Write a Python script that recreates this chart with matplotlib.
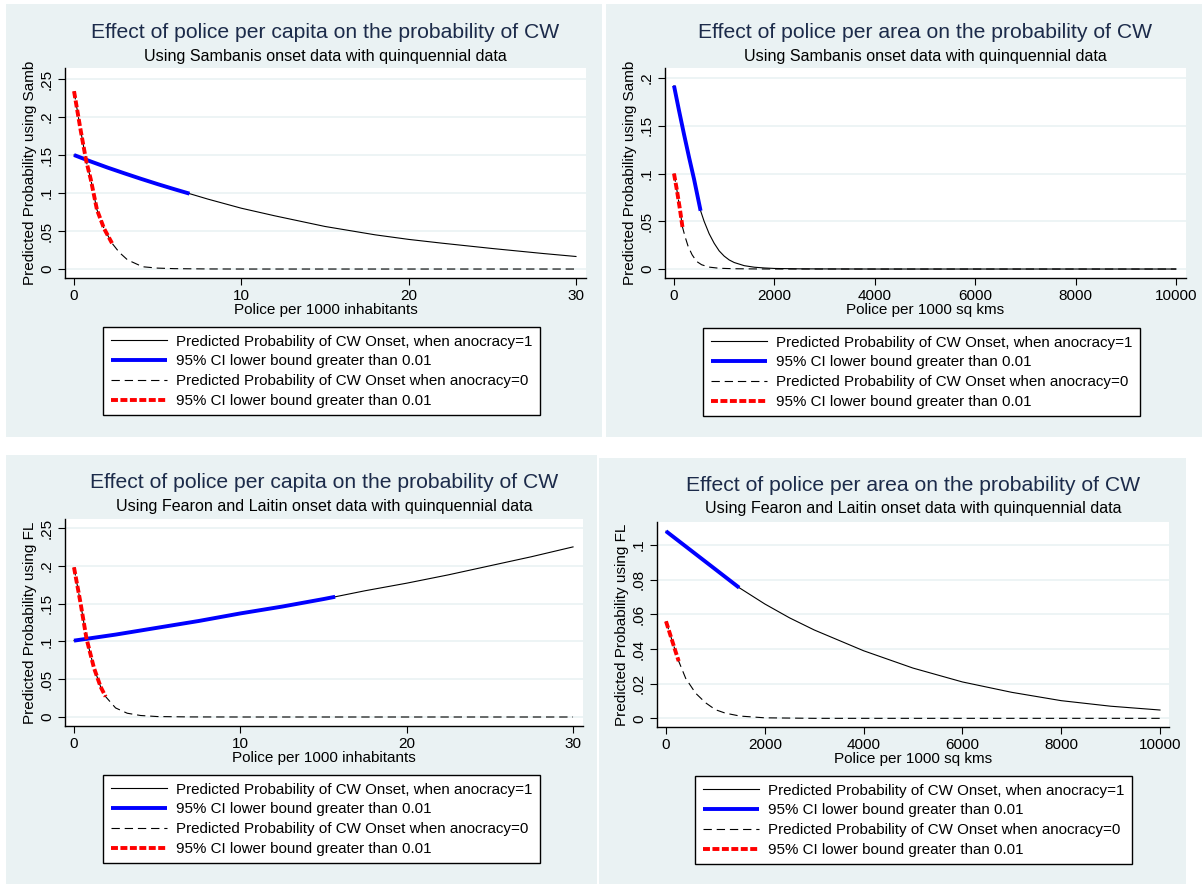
import matplotlib
matplotlib.use("Agg")
import matplotlib.pyplot as plt
import numpy as np
from matplotlib.patches import Rectangle

plt.rcParams['font.family'] = ['Liberation Sans', 'DejaVu Sans']
plt.rcParams['lines.scale_dashes'] = False

# ---- data ----
# panel 1: police per capita, Sambanis
pc_samb_x = [0, 1, 2, 3, 4, 5, 6, 6.9, 8, 10, 12, 15, 18, 20, 22, 25, 28, 30]
pc_samb_a1 = [0.150, 0.1415, 0.1335, 0.126, 0.1187, 0.1117, 0.1050, 0.0992, 0.092, 0.080,
              0.070, 0.056, 0.045, 0.039, 0.034, 0.027, 0.0205, 0.0165]
pc_samb_x0 = [0, 0.36, 0.72, 1.0, 1.37, 1.8, 2.27, 2.7, 3.2, 4.1, 5, 6, 8, 10, 15, 20, 25, 30]
pc_samb_a0 = [0.234, 0.187, 0.143, 0.118, 0.078, 0.053, 0.034, 0.022, 0.012, 0.003,
              0.0012, 0.0005, 0.0001, 0, 0, 0, 0, 0]
pc_samb_ci1, pc_samb_ci0 = 6.9, 2.27

# panel 2: police per area, Sambanis
pa_samb_x = [0, 100, 200, 300, 400, 530, 600, 700, 800, 900, 1000, 1100, 1200, 1400,
             1600, 1800, 2000, 2500, 3000, 4000, 6000, 8000, 10000]
pa_samb_a1 = [0.192, 0.166, 0.141, 0.117, 0.094, 0.061, 0.050, 0.037, 0.027, 0.019,
              0.0135, 0.0095, 0.0068, 0.0035, 0.0019, 0.0011, 0.0006, 0.0002, 0.0001,
              0, 0, 0, 0]
pa_samb_x0 = [0, 60, 120, 169, 220, 280, 360, 450, 550, 700, 900, 1200, 1600, 2000,
              4000, 6000, 8000, 10000]
pa_samb_a0 = [0.100, 0.082, 0.062, 0.044, 0.034, 0.024, 0.015, 0.008, 0.0045, 0.002,
              0.0008, 0.0003, 0.0001, 0, 0, 0, 0, 0]
pa_samb_ci1, pa_samb_ci0 = 530, 169

# panel 3: police per capita, Fearon and Laitin
pc_fl_x = [0, 2.5, 5, 7.5, 10, 12.5, 15, 15.7, 17.5, 20, 22.5, 25, 27.5, 30]
pc_fl_a1 = [0.101, 0.109, 0.118, 0.127, 0.137, 0.146, 0.156, 0.159, 0.167, 0.177,
            0.188, 0.200, 0.212, 0.225]
pc_fl_x0 = [0, 0.4, 0.75, 1.2, 1.6, 1.9, 2.5, 3.2, 4, 5, 7, 10, 15, 20, 25, 30]
pc_fl_a0 = [0.198, 0.150, 0.104, 0.065, 0.040, 0.027, 0.012, 0.005, 0.002, 0.0006,
            0.0001, 0, 0, 0, 0, 0]
pc_fl_ci1, pc_fl_ci0 = 15.7, 1.9

# panel 4: police per area, Fearon and Laitin
pa_fl_x = [0, 500, 1000, 1481, 2000, 2500, 3000, 3500, 4000, 5000, 6000, 7000, 8000,
           9000, 10000]
pa_fl_a1 = [0.108, 0.097, 0.086, 0.0754, 0.066, 0.058, 0.051, 0.045, 0.039, 0.029,
            0.021, 0.015, 0.0102, 0.007, 0.0048]
pa_fl_x0 = [0, 100, 200, 257, 400, 600, 800, 1000, 1200, 1500, 2000, 3000, 5000, 10000]
pa_fl_a0 = [0.056, 0.047, 0.038, 0.033, 0.023, 0.0145, 0.009, 0.005, 0.003, 0.0013,
            0.0003, 0, 0, 0]
pa_fl_ci1, pa_fl_ci0 = 1481, 257

titles = ['Effect of police per capita on the probability of CW',
          'Effect of police per area on the probability of CW',
          'Effect of police per capita on the probability of CW',
          'Effect of police per area on the probability of CW']
subtitles = ['Using Sambanis onset data with quinquennial data',
             'Using Sambanis onset data with quinquennial data',
             'Using Fearon and Laitin onset data with quinquennial data',
             'Using Fearon and Laitin onset data with quinquennial data']
xlabels = ['Police per 1000 inhabitants', 'Police per 1000 sq kms',
           'Police per 1000 inhabitants', 'Police per 1000 sq kms']
ylabels = ['Predicted Probability using Samb', 'Predicted Probability using Samb',
           'Predicted Probability using FL', 'Predicted Probability using FL']
xticks = [[0, 10, 20, 30], [0, 2000, 4000, 6000, 8000, 10000],
          [0, 10, 20, 30], [0, 2000, 4000, 6000, 8000, 10000]]
yticks = [[0, .05, .1, .15, .2, .25], [0, .05, .1, .15, .2],
          [0, .05, .1, .15, .2, .25], [0, .02, .04, .06, .08, .1]]
ytick_labels = [['0', '.05', '.1', '.15', '.2', '.25'], ['0', '.05', '.1', '.15', '.2'],
                ['0', '.05', '.1', '.15', '.2', '.25'], ['0', '.02', '.04', '.06', '.08', '.1']]
legend_labels = ['Predicted Probability of CW Onset, when anocracy=1',
                 '95% CI lower bound greater than 0.01',
                 'Predicted Probability of CW Onset when anocracy=0',
                 '95% CI lower bound greater than 0.01']

series = [(pc_samb_x, pc_samb_a1, pc_samb_ci1, pc_samb_x0, pc_samb_a0, pc_samb_ci0),
          (pa_samb_x, pa_samb_a1, pa_samb_ci1, pa_samb_x0, pa_samb_a0, pa_samb_ci0),
          (pc_fl_x, pc_fl_a1, pc_fl_ci1, pc_fl_x0, pc_fl_a0, pc_fl_ci0),
          (pa_fl_x, pa_fl_a1, pa_fl_ci1, pa_fl_x0, pa_fl_a0, pa_fl_ci0)]

# ---- layout (pixels) ----
W, H = 1202, 884
BG = '#EAF2F3'
TITLE_C = '#1C2B4A'

def fbox(l, t, r, b):
    return [l / W, 1 - b / H, (r - l) / W, (b - t) / H]

layout = [
    dict(bg=(6, 4, 602, 437), ax=(65, 68, 586, 278), ty=32, sy=56, leg=(103, 327),
         xlim=(-0.54, 30.6), ylim=(-0.0118, 0.2645)),
    dict(bg=(606, 4, 1202, 437), ax=(665, 68, 1186, 278), ty=32, sy=56, leg=(703, 328),
         xlim=(-179, 10199), ylim=(-0.0094, 0.2105)),
    dict(bg=(6, 455, 597, 884), ax=(65, 519, 583, 726), ty=483, sy=507, leg=(103, 775),
         xlim=(-0.54, 30.6), ylim=(-0.0119, 0.2619)),
    dict(bg=(599, 458, 1186, 884), ax=(657, 522, 1169, 727), ty=485, sy=509, leg=(695, 776),
         xlim=(-182, 10182), ylim=(-0.005, 0.1133)),
]

fig = plt.figure(figsize=(W / 100, H / 100), dpi=100)
fig.patch.set_facecolor('white')

for i, lay in enumerate(layout):
    l, t, r, b = lay['bg']
    fig.patches.append(Rectangle((l / W, 1 - b / H), (r - l) / W, (b - t) / H,
                                 transform=fig.transFigure, facecolor=BG,
                                 edgecolor='none', zorder=-10))
    ax = fig.add_axes(fbox(*lay['ax']))
    ax.set_zorder(1)
    ax.set_facecolor('white')
    x1, y1, c1, x0, y0, c0 = series[i]
    x1 = np.array(x1); y1 = np.array(y1)
    x0 = np.array(x0); y0 = np.array(y0)

    h1, = ax.plot(x1, y1, color='black', lw=0.8, zorder=3)
    h3, = ax.plot(x0, y0, color='black', lw=0.8, dashes=(6, 3.5), zorder=3)
    m1 = x1 <= c1
    m0 = x0 <= c0
    h2, = ax.plot(x1[m1], y1[m1], color='#0000FF', lw=2.8, zorder=4,
                  solid_capstyle='butt')
    h4, = ax.plot(x0[m0], y0[m0], color='#FF0000', lw=2.8, dashes=(5, 1.8), zorder=5)

    ax.set_xlim(*lay['xlim'])
    ax.set_ylim(*lay['ylim'])
    ax.set_xticks(xticks[i])
    ax.set_yticks(yticks[i])
    ax.set_yticklabels(ytick_labels[i], rotation=90, va='center')
    ax.tick_params(direction='out', length=5, width=0.8, labelsize=11, pad=3)
    for s in ['top', 'right']:
        ax.spines[s].set_visible(False)
    for s in ['left', 'bottom']:
        ax.spines[s].set_linewidth(1.0)
    ax.yaxis.grid(True, color=BG, lw=1.2, zorder=0)
    ax.set_axisbelow(True)
    ax.set_xlabel(xlabels[i], fontsize=11, labelpad=0)
    ax.set_ylabel(ylabels[i], fontsize=11, labelpad=2)

    al, at, ar, ab = lay['ax']
    cx = (al + ar) / 2 / W
    fig.text(cx, 1 - lay['ty'] / H, titles[i], ha='center', va='center',
             fontsize=15.2, color=TITLE_C)
    fig.text(cx, 1 - lay['sy'] / H, subtitles[i], ha='center', va='center',
             fontsize=11.6, color='black')

    lx, ly = lay['leg']
    leg = ax.legend([h1, h2, h3, h4], legend_labels, loc='upper left',
                    bbox_to_anchor=(lx / W, 1 - ly / H), bbox_transform=fig.transFigure,
                    fontsize=10.9, frameon=True, fancybox=False, framealpha=1,
                    edgecolor='black', handlelength=3.75, handletextpad=0.55,
                    labelspacing=0.38, borderpad=0.5, borderaxespad=0)
    leg.get_frame().set_linewidth(1.0)

fig.savefig('out.png', dpi=100, facecolor='white')
